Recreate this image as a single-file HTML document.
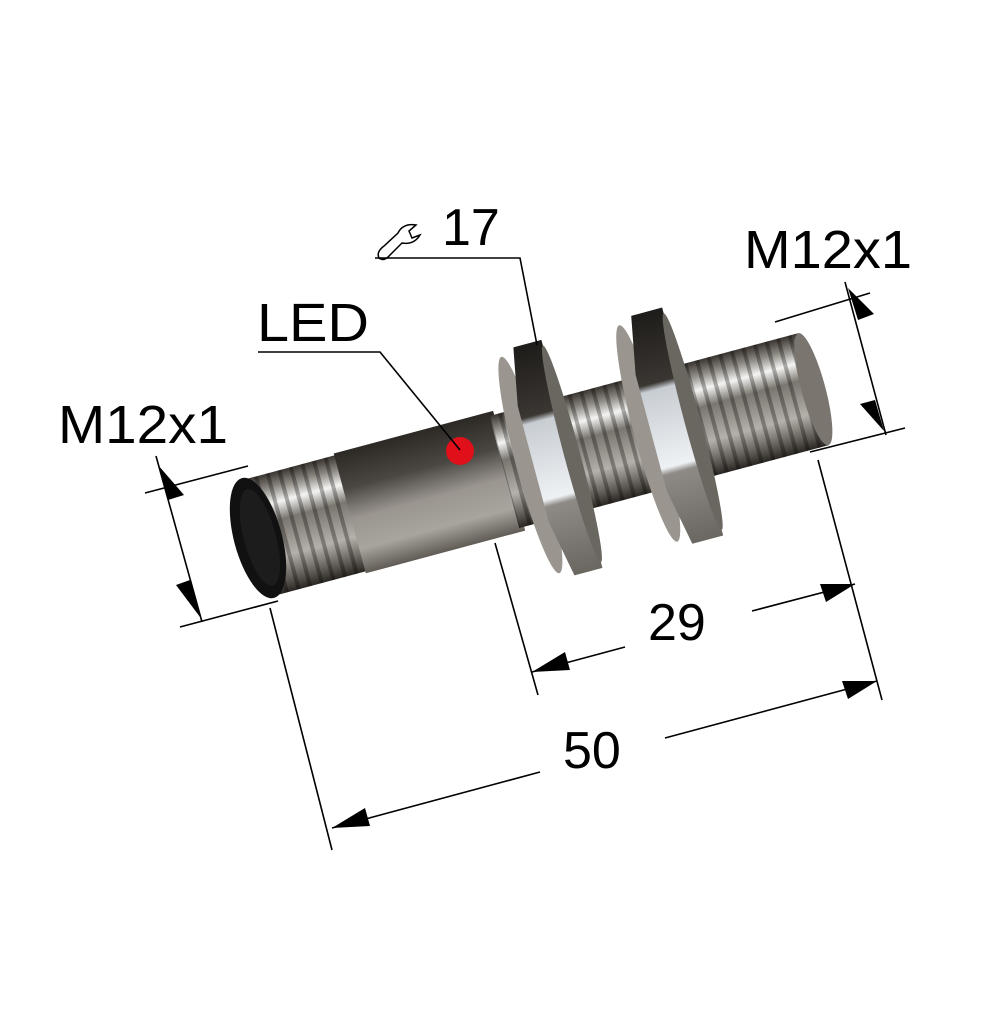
<!DOCTYPE html>
<html><head><meta charset="utf-8"><style>
html,body{margin:0;padding:0;background:#fff;}
svg{display:block}
text{font-family:"Liberation Sans",Arial,sans-serif;fill:#000}
</style></head><body>
<svg width="1001" height="1015" viewBox="0 0 1001 1015" xmlns="http://www.w3.org/2000/svg">
<defs>
<linearGradient id="met" x1="0" y1="0" x2="0" y2="1">
<stop offset="0" stop-color="#3a3530"/>
<stop offset="0.12" stop-color="#8a8680"/>
<stop offset="0.25" stop-color="#f4f4f2"/>
<stop offset="0.4" stop-color="#7a766f"/>
<stop offset="0.7" stop-color="#b4b0aa"/>
<stop offset="0.9" stop-color="#5a5650"/>
<stop offset="1" stop-color="#2a2622"/>
</linearGradient>
<linearGradient id="barrel" x1="0" y1="0" x2="0" y2="1">
<stop offset="0" stop-color="#2c2824"/>
<stop offset="0.3" stop-color="#4a4642"/>
<stop offset="0.55" stop-color="#9a958f"/>
<stop offset="0.8" stop-color="#a8a49e"/>
<stop offset="1" stop-color="#605b55"/>
</linearGradient>
<linearGradient id="nut" x1="0" y1="0" x2="0" y2="1">
<stop offset="0" stop-color="#1e1c1a"/>
<stop offset="0.3" stop-color="#3a3632"/>
<stop offset="0.33" stop-color="#c8cdd2"/>
<stop offset="0.66" stop-color="#eef1f4"/>
<stop offset="0.69" stop-color="#8e8a86"/>
<stop offset="1" stop-color="#6a6660"/>
</linearGradient>
<pattern id="thr" width="12" height="200" patternUnits="userSpaceOnUse">
<rect x="0" y="0" width="4" height="200" fill="#000" opacity="0.3"/>
</pattern>
</defs>

<g transform="translate(258,538) rotate(-15)">
 <rect x="0" y="-60" width="100" height="120" fill="url(#met)"/>
 <rect x="0" y="-60" width="100" height="120" fill="url(#thr)"/>
 <rect x="95" y="-62" width="165" height="124" fill="url(#barrel)"/>
 <rect x="255" y="-58" width="320" height="116" fill="url(#met)"/>
 <rect x="255" y="-58" width="320" height="116" fill="url(#thr)"/>
 <!-- nut1 -->
 <ellipse cx="282" cy="0" rx="14" ry="112" fill="#9a968f"/>
 <polygon points="285,-60 296,-118 325,-118 325,118 296,118 285,60" fill="url(#nut)"/>
 <ellipse cx="325" cy="0" rx="8" ry="112" fill="#6a6660"/>
 <!-- nut2 -->
 <ellipse cx="404" cy="0" rx="14" ry="112" fill="#9a968f"/>
 <polygon points="407,-60 418,-118 450,-118 450,118 418,118 407,60" fill="url(#nut)"/>
 <ellipse cx="450" cy="0" rx="8" ry="112" fill="#6a6660"/>
 <ellipse cx="575" cy="0" rx="12" ry="58" fill="#7a766f"/>
 <ellipse cx="0" cy="0" rx="24" ry="62" fill="#111"/>
 <ellipse cx="2" cy="0" rx="16" ry="50" fill="#1c1c1c"/>
</g>
<circle cx="460" cy="451" r="14" fill="#e0101a"/>

<g stroke="#000" stroke-width="1.6" fill="none">
 <polyline points="258,352 380,352 460,450"/>
 <polyline points="375,258 520,258 537,345"/>
 <line x1="145" y1="493" x2="248" y2="466"/>
 <line x1="180" y1="627" x2="278" y2="601"/>
 <line x1="156" y1="456" x2="202" y2="622"/>
 <line x1="775" y1="322" x2="870" y2="293"/>
 <line x1="810" y1="452" x2="905" y2="428"/>
 <line x1="845" y1="282" x2="886" y2="435"/>
 <line x1="495" y1="543" x2="538" y2="695"/>
 <line x1="818" y1="460" x2="882" y2="700"/>
 <line x1="532" y1="672" x2="625" y2="647"/>
 <line x1="752" y1="611" x2="855" y2="584"/>
 <line x1="270" y1="608" x2="332" y2="850"/>
 <line x1="332" y1="828" x2="540" y2="772"/>
 <line x1="665" y1="738" x2="877" y2="681"/>
</g>
<g fill="#000">
 <polygon points="168,500 158,465 184,495"/>
 <polygon points="190,580 200,617 176,585"/>
 <polygon points="858,320 848,288 874,314"/>
 <polygon points="875,400 884,431 860,404"/>
 <polygon points="532,672 565,652 570,670"/>
 <polygon points="855,584 820,584 826,602"/>
 <polygon points="332,828 365,808 370,826"/>
 <polygon points="877,681 842,681 848,699"/>
</g>

<text x="58" y="443" font-size="54" textLength="170" lengthAdjust="spacingAndGlyphs">M12x1</text>
<text x="744" y="268" font-size="54" textLength="168" lengthAdjust="spacingAndGlyphs">M12x1</text>
<text x="257" y="341" font-size="54" textLength="112" lengthAdjust="spacingAndGlyphs">LED</text>
<text x="442" y="245" font-size="52">17</text>
<text x="648" y="640" font-size="52">29</text>
<text x="563" y="768" font-size="52">50</text>
<path d="M384,246 q-8,6 -5,12 q5,4 11,-3 l12,-12 q12,2 18,-8 l-8,3 -3,-7 7,-6 q-13,-2 -18,8 z" fill="none" stroke="#000" stroke-width="1.5"/>
</svg>
</body></html>
